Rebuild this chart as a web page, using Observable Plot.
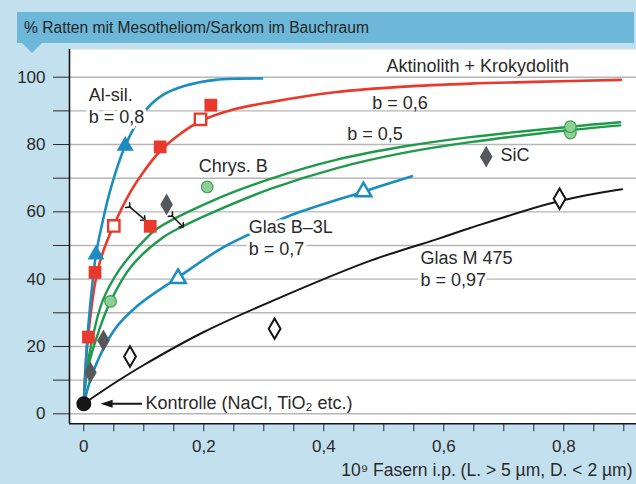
<!DOCTYPE html>
<html><head><meta charset="utf-8">
<script src="https://cdn.jsdelivr.net/npm/d3@7"></script>
<script src="https://cdn.jsdelivr.net/npm/@observablehq/plot@0.6"></script>
<style>
body{margin:0;background:#c3e0ef;}
#wrap{position:relative;width:636px;height:484px;background:#c3e0ef;overflow:hidden;font-family:"Liberation Sans",Arial,sans-serif;}
#chart{position:absolute;left:0;top:0;}
#title{position:absolute;left:17px;top:12px;width:617px;height:31px;background:#6db7d9;color:#262626;font-size:15.6px;line-height:31px;padding-left:7px;box-sizing:border-box;white-space:nowrap;}
#pointer{position:absolute;left:22px;top:43px;width:0;height:0;border-left:10px solid transparent;border-right:10px solid transparent;border-top:10px solid #6db7d9;}
</style></head>
<body>
<div id="wrap"><div id="chart"></div><div id="title">% Ratten mit Mesotheliom/Sarkom im Bauchraum</div><div id="pointer"></div></div>
<script>
// ---- axis ticks ----
const xTicks = [0,0.05,0.1,0.15,0.2,0.25,0.3,0.35,0.4,0.45,0.5,0.55,0.6,0.65,0.7,0.75,0.8,0.85,0.9];
const xLabelValues = [0,0.2,0.4,0.6,0.8];
const xLabelTexts = ["0","0,2","0,4","0,6","0,8"];
const yTicks = [0,10,20,30,40,50,60,70,80,90,100];
const yLabelValues = [0,20,40,60,80,100];
const yLabelTexts = ["0","20","40","60","80","100"];
const xTitle = "10\u2079 Fasern i.p. (L. > 5 \u00b5m, D. < 2 \u00b5m)";

// ---- fitted curves ----
const alsilCurveX = [0,0.005,0.01,0.02,0.03,0.045,0.07,0.1,0.13,0.17,0.22,0.297];
const alsilCurveY = [3,20,31,47,56,67,80,89.5,94.5,97.5,99.2,99.6];
const aktinCurveX = [0,0.003,0.0078,0.019,0.03,0.05,0.078,0.1,0.127,0.161,0.195,0.245,0.311,0.422,0.533,0.644,0.75,0.895];
const aktinCurveY = [3,14,24,39,47,56,66,72,78,83.2,87,90.2,92.6,95.6,97.2,98.1,98.6,99.2];
const greenACurveX = [0,0.005,0.014,0.031,0.06,0.106,0.122,0.217,0.311,0.422,0.533,0.644,0.811,0.894];
const greenACurveY = [3,13,22,33.4,43,52.5,55,63.5,69.8,75.5,79.4,82.2,85.3,86.6];
const greenBCurveX = [0,0.005,0.022,0.0445,0.08,0.133,0.164,0.217,0.311,0.422,0.533,0.644,0.811,0.894];
const greenBCurveY = [3,12,23,33.4,44,52.5,55.6,60,66.8,73,77.5,80.7,84.3,85.7];
const glasBCurveX = [0,0.0167,0.05,0.089,0.157,0.228,0.278,0.344,0.466,0.547];
const glasBCurveY = [3,13,24.7,32,40.5,49,53.5,58.9,66,70.6];
const glasMCurveX = [0,0.05,0.1,0.2,0.328,0.478,0.594,0.644,0.793,0.897];
const glasMCurveY = [3,9,14.5,24.3,34.6,45.5,52.2,55.2,63.2,66.7];

// ---- measured points ----
const kontrolleX = [0], kontrolleY = [3];
const alsilX = [0.0203,0.069], alsilY = [47.3,79.6];
const aktinFilledX = [0.0078,0.0187,0.1107,0.1273,0.2117], aktinFilledY = [22.8,42,55.7,79.3,91.7];
const aktinOpenX = [0.05,0.1945], aktinOpenY = [55.8,87.5];
const sicX = [0.011,0.0328,0.138,0.6707], sicY = [12.3,21.8,62.2,76.4];
const glasMX = [0.077,0.318,0.793], glasMY = [17.0,25.3,63.9];
const chrysX = [0.0445,0.2057,0.811,0.811], chrysY = [33.4,67.4,83.4,85.3];
const glasBX = [0.157,0.466], glasBY = [40.2,66.0];

// ---- annotations ----
const haloLabels = ["Al-sil.\nb = 0,8","Glas B\u20133L\nb = 0,7","Glas M 475\nb = 0,97"];
const haloLabelX = [0.0083,0.275,0.5612];
const haloLabelY = [91.7,52.4,43.3];
const plainLabels = ["Aktinolith + Krokydolith","b = 0,6","b = 0,5","Chrys. B","SiC","Kontrolle (NaCl, TiO\u2082 etc.)"];
const plainLabelX = [0.5045,0.4807,0.439,0.1917,0.6945,0.1028];
const plainLabelY = [103.3,92.3,83.0,73.5,76.7,3.0];
const pairArrowX1 = [0.075,0.146], pairArrowY1 = [61.7,59.0];
const pairArrowX2 = [0.1,0.164], pairArrowY2 = [57.9,55.8];
const ctrlArrowTailX = [0.097], ctrlArrowBaseX = [0.042], ctrlArrowTipX = [0.028], ctrlArrowY = [3];

const xDomain = [-0.02383, 0.92117];
const yDomain = [-2.971, 108.23];

const BLUE = "#1a8dc1", RED = "#e8392c", GREEN = "#1f9a4b", BLACK = "#161616", GRAY = "#55595d";
const TXT = "#2a2a2a";
const FONT = "'Liberation Sans', Arial, sans-serif";

// filled arrowhead pointing left, tip at the anchor point
const leftHead = {draw(ctx) { ctx.moveTo(0, 0); ctx.lineTo(12, -4); ctx.lineTo(12, 4); ctx.closePath(); }};

const fmtX = d => { const i = xLabelValues.findIndex(v => Math.abs(v - d) < 1e-9); return i < 0 ? "" : xLabelTexts[i]; };
const fmtY = d => { const i = yLabelValues.indexOf(d); return i < 0 ? "" : yLabelTexts[i]; };
const line = (xs, ys, color, w) => Plot.line(xs, {x: xs, y: ys, stroke: color, strokeWidth: w, curve: "catmull-rom"});

const chart = Plot.plot({
  width: 636, height: 484,
  marginLeft: 69, marginRight: 0, marginTop: 49, marginBottom: 60.7,
  style: {background: "transparent", fontFamily: FONT, fontSize: "17px", color: TXT},
  x: {domain: xDomain, ticks: xTicks, tickFormat: fmtX, tickSize: 8, tickPadding: 8, label: null},
  y: {domain: yDomain, ticks: yTicks, tickFormat: fmtY, tickSize: 16, tickPadding: 8, label: null},
  marks: [
    Plot.frame({fill: "white", stroke: "none"}),
    Plot.ruleY(yTicks, {stroke: "#b6b6b6", strokeWidth: 1.4}),
    line(glasMCurveX, glasMCurveY, BLACK, 2),
    line(glasBCurveX, glasBCurveY, BLUE, 2.6),
    line(greenACurveX, greenACurveY, GREEN, 2.4),
    line(greenBCurveX, greenBCurveY, GREEN, 2.4),
    line(aktinCurveX, aktinCurveY, RED, 2.6),
    line(alsilCurveX, alsilCurveY, BLUE, 2.6),
    Plot.text(haloLabels, {x: haloLabelX, y: haloLabelY, text: d => d, textAnchor: "start", lineAnchor: "middle", lineHeight: 1.22, fontSize: 18, fill: TXT, stroke: "white", strokeWidth: 7, paintOrder: "stroke"}),
    Plot.text(plainLabels, {x: plainLabelX, y: plainLabelY, text: d => d, textAnchor: "start", lineAnchor: "middle", fontSize: 18, fill: TXT}),
    Plot.text([xTitle], {frameAnchor: "bottom-right", text: d => d, dx: -4, dy: 47, textAnchor: "end", lineAnchor: "middle", fontSize: 17.5, fill: TXT}),
    Plot.link(pairArrowX1, {x1: pairArrowX1, y1: pairArrowY1, x2: pairArrowX2, y2: pairArrowY2, stroke: BLACK, strokeWidth: 1.5, markerStart: "arrow", markerEnd: "arrow"}),
    Plot.link(ctrlArrowTailX, {x1: ctrlArrowTailX, y1: ctrlArrowY, x2: ctrlArrowBaseX, y2: ctrlArrowY, stroke: BLACK, strokeWidth: 2}),
    Plot.dot(ctrlArrowTipX, {x: ctrlArrowTipX, y: ctrlArrowY, symbol: leftHead, fill: BLACK, stroke: "none"}),
    Plot.dot(kontrolleX, {x: kontrolleX, y: kontrolleY, r: 7.5, fill: BLACK, stroke: "none"}),
    Plot.dot(alsilX, {x: alsilX, y: alsilY, symbol: "triangle", r: 6.3, fill: BLUE, stroke: "none"}),
    Plot.dot(glasBX, {x: glasBX, y: glasBY, symbol: "triangle", r: 5.8, fill: "white", stroke: BLUE, strokeWidth: 2.5}),
    Plot.dot(aktinFilledX, {x: aktinFilledX, y: aktinFilledY, symbol: "square", r: 7.2, fill: RED, stroke: "none"}),
    Plot.dot(aktinOpenX, {x: aktinOpenX, y: aktinOpenY, symbol: "square", r: 6.4, fill: "white", stroke: RED, strokeWidth: 2.4}),
    Plot.dot(sicX, {x: sicX, y: sicY, symbol: "diamond", r: 6.6, fill: GRAY, stroke: "none"}),
    Plot.dot(glasMX, {x: glasMX, y: glasMY, symbol: "diamond", r: 6.2, fill: "white", stroke: BLACK, strokeWidth: 2}),
    Plot.dot(chrysX, {x: chrysX, y: chrysY, r: 5.8, fill: "#8ecf96", stroke: "#3da157", strokeWidth: 1.2}),
    Plot.ruleX([xDomain[0]], {stroke: BLACK, strokeWidth: 1.6}),
    Plot.ruleY([yDomain[0]], {stroke: BLACK, strokeWidth: 1.6})
  ]
});
document.getElementById("chart").appendChild(chart);
</script>
</body></html>
